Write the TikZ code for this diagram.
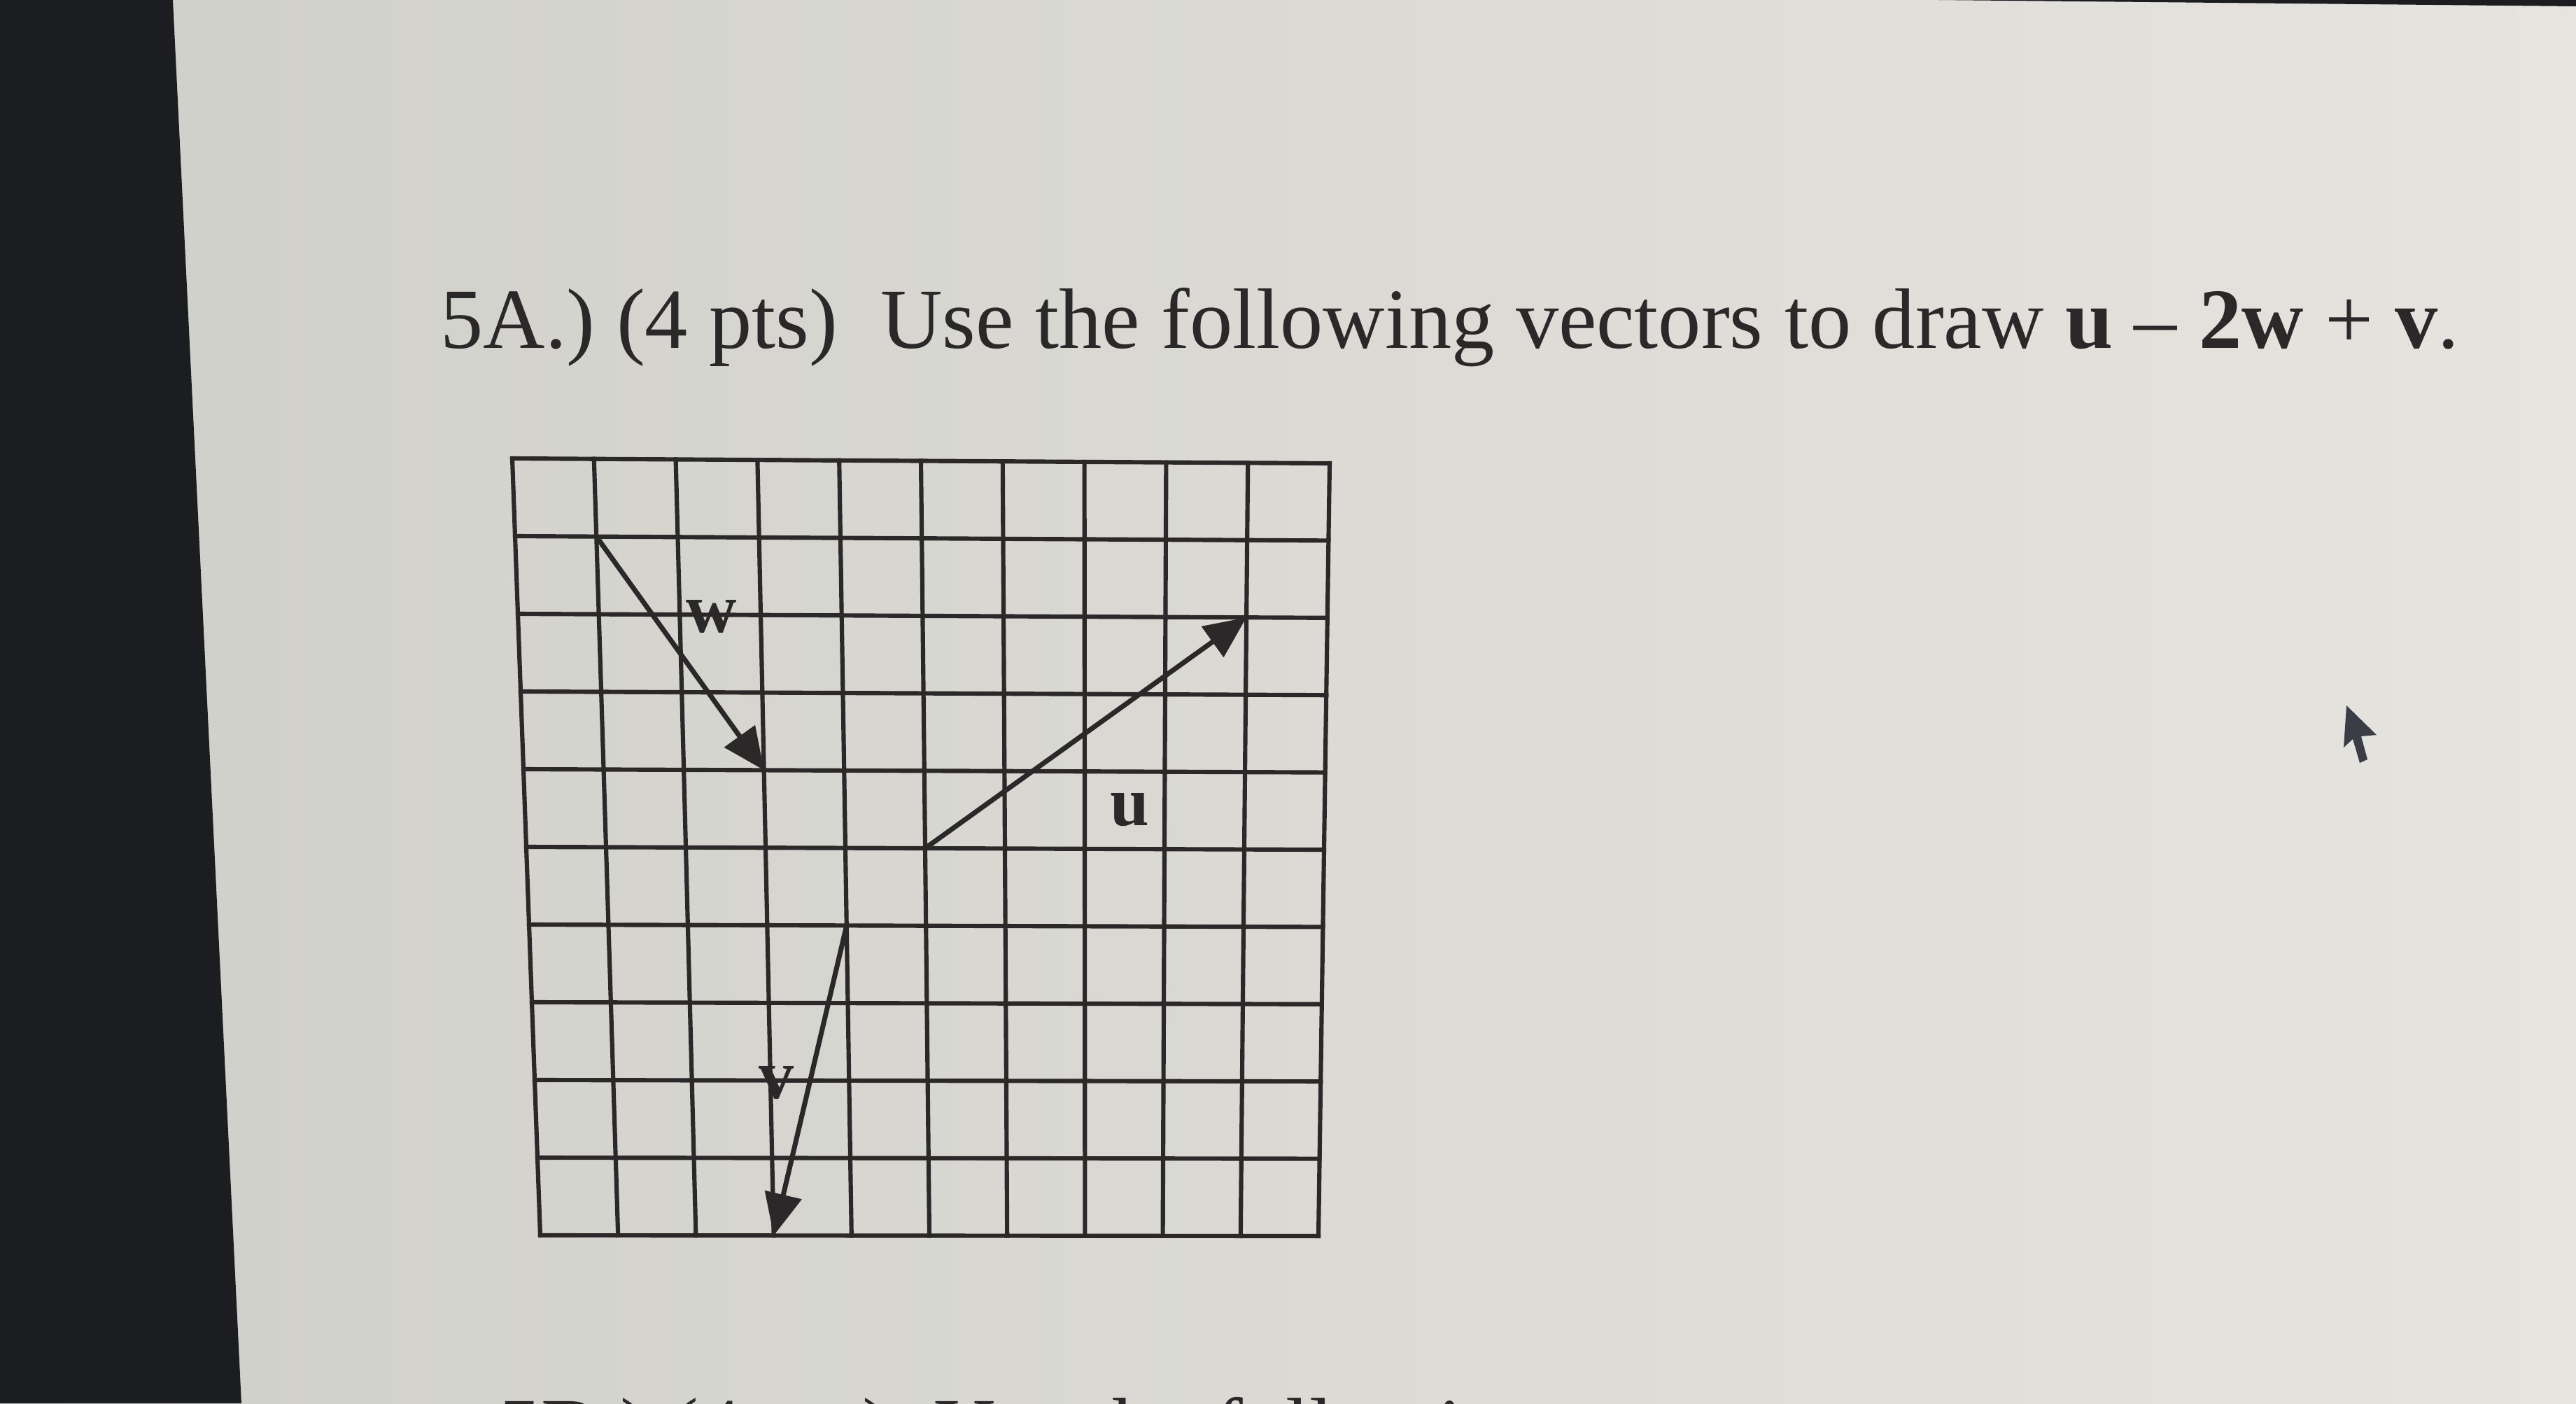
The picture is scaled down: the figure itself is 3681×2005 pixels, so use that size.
\documentclass[tikz,border=0pt]{standalone}
\usepackage{fontspec}
\setmainfont{Liberation Serif}
\usetikzlibrary{calc,arrows.meta}
\definecolor{bgL}{RGB}{207,207,202}
\definecolor{bgR}{RGB}{230,228,223}
\definecolor{bezel}{RGB}{28,29,32}
\definecolor{ink}{RGB}{42,40,40}
\definecolor{cursorc}{RGB}{58,60,70}
\tikzset{
  gridline/.style={draw=ink, line width=1.75pt, line cap=rect},
  vec/.style={draw=ink, line width=2pt, -{Triangle[length=17pt,width=15pt]}},
  lbl/.style={inner sep=0pt, text=ink, font=\fontsize{28.5}{30}\selectfont\bfseries},
  titletext/.style={inner sep=0pt, text=ink, font=\fontsize{34.8}{40}\selectfont, anchor=base west},
}
\begin{document}
\begin{tikzpicture}[x=0.01cm,y=-0.01cm]
\useasboundingbox (0,0) rectangle (3681,2005);
\clip (0,0) rectangle (3681,2005);
% screen background
\fill[left color=bgL, right color=bgR] (0,0) rectangle (3681,2005);
% dark bezel at left and thin edge at top right
\fill[bezel] (0,0) -- (247,0) -- (345,2005) -- (0,2005) -- cycle;
\fill[bezel] (2770,0) -- (3681,0) -- (3681,9) -- cycle;
% title
\node[titletext] (title) at (629,497) {5A.) (4 pts)\hspace{0.5em}Use the following vectors to draw \textbf{u} – \textbf{2w} + \textbf{v}.};
% next question, cut off at the bottom edge
\node[titletext] (next) at (712,2082) {5B.) (4 pts)\hspace{0.5em}Use the following};
% grid corners
\coordinate (TL) at (732,655);
\coordinate (TR) at (1900,662);
\coordinate (BL) at (772,1765);
\coordinate (BR) at (1884,1766);
\foreach \i in {0,...,10}{
  \draw[gridline] ($(TL)!\i/10!(TR)$) -- ($(BL)!\i/10!(BR)$);
  \draw[gridline] ($(TL)!\i/10!(BL)$) -- ($(TR)!\i/10!(BR)$);
}
% vector end points (column, row) on the grid
\coordinate (wS) at ($($(TL)!0.1!(TR)$)!0.1!($(BL)!0.1!(BR)$)$);
\coordinate (wE) at ($($(TL)!0.3!(TR)$)!0.4!($(BL)!0.3!(BR)$)$);
\coordinate (uS) at ($($(TL)!0.5!(TR)$)!0.5!($(BL)!0.5!(BR)$)$);
\coordinate (uE) at ($($(TL)!0.9!(TR)$)!0.2!($(BL)!0.9!(BR)$)$);
\coordinate (vS) at ($($(TL)!0.4!(TR)$)!0.6!($(BL)!0.4!(BR)$)$);
\coordinate (vE) at ($($(TL)!0.3!(TR)$)!1.0!($(BL)!0.3!(BR)$)$);
\draw[vec] (wS) -- (wE);
\draw[vec] (uS) -- (uE);
\draw[vec] (vS) -- (vE);
% labels
\node[lbl] (lw) at (1017,881) {w};
\node[lbl] (lu) at (1614,1157) {u};
\node[lbl] (lv) at (1110,1547) {v};
% mouse pointer
\fill[cursorc] (3353,1008) -- (3349,1068) -- (3362,1056) -- (3372,1090) -- (3383,1085) -- (3374,1052) -- (3396,1050) -- cycle;
\end{tikzpicture}
\end{document}
